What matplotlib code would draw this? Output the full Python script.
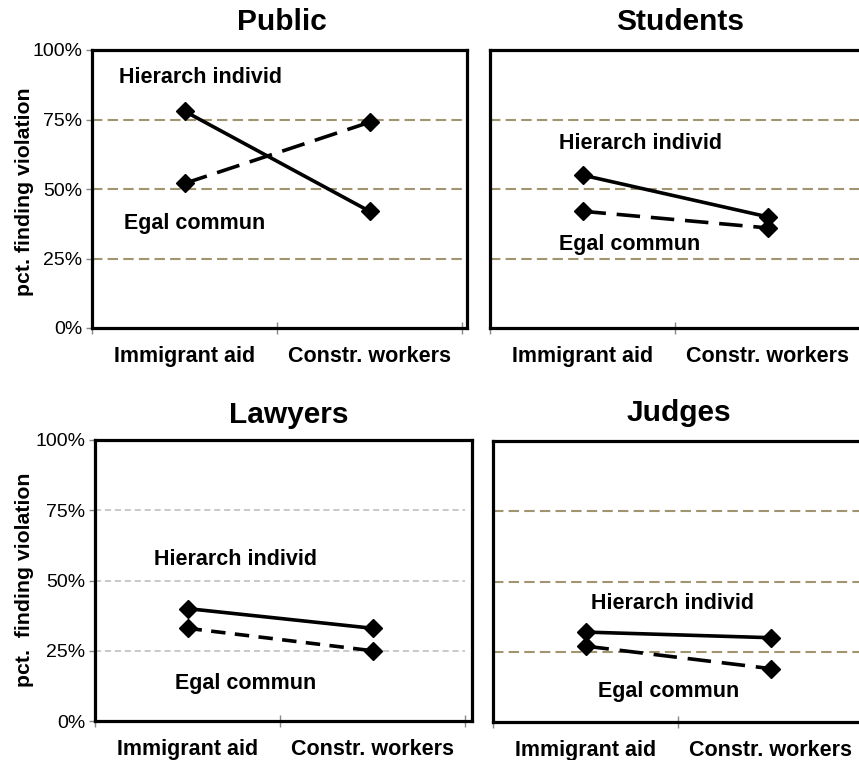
import numpy as np
import matplotlib.pyplot as plt

plt.rcParams['font.family'] = ['Liberation Sans', 'DejaVu Sans']

# категории и данные (доля, нашедшая нарушение)
categories = ['Immigrant aid', 'Constr. workers']
panels = ['Public', 'Students', 'Lawyers', 'Judges']
hier = {'Public': [0.78, 0.42], 'Students': [0.55, 0.40],
        'Lawyers': [0.40, 0.33], 'Judges': [0.32, 0.30]}
egal = {'Public': [0.52, 0.74], 'Students': [0.42, 0.36],
        'Lawyers': [0.33, 0.25], 'Judges': [0.27, 0.19]}
yticks = [0, 0.25, 0.5, 0.75, 1.0]
ytick_labels = ['0%', '25%', '50%', '75%', '100%']

W, H = 859, 760
fig = plt.figure(figsize=(W / 100, H / 100), dpi=100)

def px_rect(l, t, r, b):
    return [l / W, 1 - b / H, (r - l) / W, (b - t) / H]

# положение осей в пикселях (лево, верх, право, низ)
rects = {'Public': (92, 50, 467, 328), 'Students': (490, 50, 865, 328),
         'Lawyers': (95, 440, 472, 721), 'Judges': (493, 441, 868, 722)}
# центры заголовков
title_pos = {'Public': (282, 22), 'Students': (680, 22),
             'Lawyers': (289, 415), 'Judges': (679, 413)}
# подписи линий (x, y в координатах данных)
lab_hier = {'Public': (0.145, 0.90), 'Students': (0.375, 0.665),
            'Lawyers': (0.32, 0.575), 'Judges': (0.53, 0.42)}
lab_egal = {'Public': (0.175, 0.375), 'Students': (0.375, 0.30),
            'Lawyers': (0.43, 0.135), 'Judges': (0.565, 0.107)}

olive = '#A09570'
x = np.array([0.5, 1.5])

for name in panels:
    l, t, r, b = rects[name]
    ax = fig.add_axes(px_rect(l, t, r, b))
    ax.set_xlim(0, (r - l) / 185)
    ax.set_ylim(0, 1)

    if name == 'Lawyers':
        ax.hlines([0.25, 0.5, 0.75], 0, 2, colors='#BBBBBB', lw=1.1,
                  linestyles=(0, (4, 2.5)), zorder=1)
        egal_ls = (0, (4, 2.6))
    else:
        ax.hlines([0.25, 0.5, 0.75], 0, 2, colors=olive, lw=1.5,
                  linestyles=(0, (5, 2.5)), zorder=1)
        egal_ls = (0, (6.5, 3))

    ax.plot(x, hier[name], color='black', lw=2.6, marker='D', ms=9.5, zorder=3)
    ax.plot(x, egal[name], color='black', lw=2.6, ls=egal_ls, marker='D',
            ms=9.5, zorder=3)

    hx, hy = lab_hier[name]
    ax.text(hx, hy, 'Hierarch individ', fontsize=15.5, fontweight='bold',
            va='center', ha='left')
    ex, ey = lab_egal[name]
    ax.text(ex, ey, 'Egal commun', fontsize=15.5, fontweight='bold',
            va='center', ha='left')

    for s in ax.spines.values():
        s.set_linewidth(2.3)

    ax.set_xticks(x)
    ax.set_xticklabels(categories, fontsize=15.5, fontweight='bold')
    ax.set_xticks([0, 1, 2], minor=True)
    ax.tick_params(axis='x', which='major', length=0, pad=13)
    ax.tick_params(axis='x', which='minor', direction='inout', length=8,
                   width=1, color='#888888')

    ax.set_yticks(yticks)
    if name in ('Public', 'Lawyers'):
        ax.set_yticklabels(ytick_labels, fontsize=14)
        ax.tick_params(axis='y', length=4, width=1, color='#888888', pad=3)
    else:
        ax.set_yticklabels([])
        ax.tick_params(axis='y', length=0)

    tx, ty = title_pos[name]
    fig.text(tx / W, 1 - ty / H, name, fontsize=21.5, fontweight='bold',
             ha='center', va='center')

fig.text(25 / W, 1 - 192 / H, 'pct. finding violation', rotation=90,
         fontsize=15.3, fontweight='bold', ha='center', va='center')
fig.text(25 / W, 1 - 580 / H, 'pct.  finding violation', rotation=90,
         fontsize=15.3, fontweight='bold', ha='center', va='center')

fig.savefig('out.png', dpi=100)
